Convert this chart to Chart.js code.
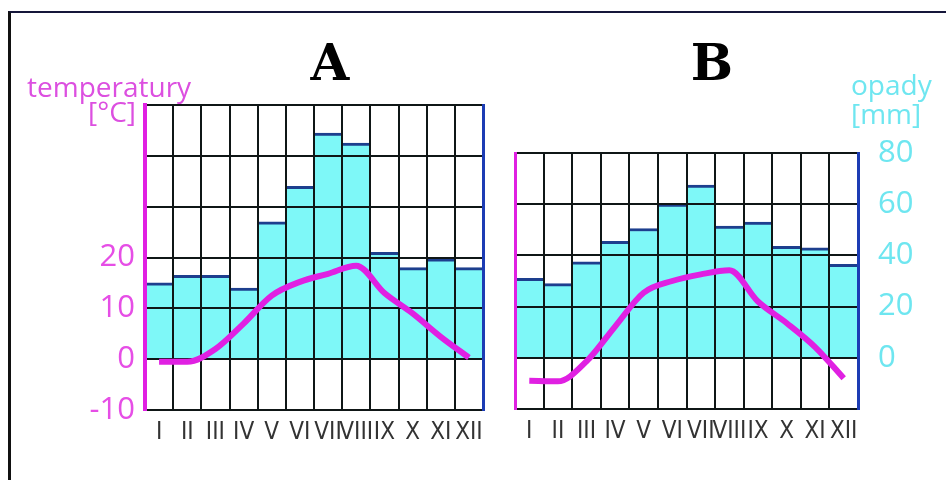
<!DOCTYPE html>
<html>
<head>
<meta charset="utf-8">
<script src="https://cdn.jsdelivr.net/npm/chart.js@4.4.1/dist/chart.umd.min.js"></script>
<style>
  body { margin: 0; background: #fff; width: 946px; height: 480px; overflow: hidden; position: relative; font-family: "Open Sans", sans-serif; }
  .frame { position: absolute; left: 8px; top: 11px; width: 960px; height: 480px; border-top: 2px solid #15163a; border-left: 3px solid #111; }
  canvas { position: absolute; top: 0; }
  .title { position: absolute; top: 39px; font-family: "DejaVu Serif", serif; font-weight: bold; font-size: 50px; line-height: 48px; color: #000; transform: translateX(-50%); }
  .unit { position: absolute; font-size: 28px; line-height: 27px; white-space: nowrap; }
  .temp { color: #dc4fe0; }
  .rain { color: #6ee6f0; }
</style>
</head>
<body>
<div class="frame"></div>
<canvas id="chartA" width="500" height="470" style="left:0"></canvas>
<canvas id="chartB" width="456" height="470" style="left:490px"></canvas>
<div class="title" style="left:330px">A</div>
<div class="title" style="left:712px">B</div>
<div class="unit temp" style="left:27px; top:73px">temperatury</div>
<div class="unit temp" style="left:88px; top:98px">[°C]</div>
<div class="unit rain" style="left:851px; top:71px">opady</div>
<div class="unit rain" style="left:851px; top:100px">[mm]</div>

<script>
// months
const months = ["I", "II", "III", "IV", "V", "VI", "VII", "VIII", "IX", "X", "XI", "XII"];

// station A
const tempA = [-0.5, -0.5, 2, 7, 12.5, 15.2, 16.8, 18.4, 13, 9, 4.4, 0.3];
const rainA = [30, 33, 33, 28, 54, 68, 89, 85, 42, 36, 39.5, 36];

// station B
const tempB = [-4.5, -4.6, -0.7, 6.1, 12.7, 15, 16.3, 17.1, 11, 6.8, 2.1, -4];
const rainB = [31, 29, 37.5, 45.5, 50.5, 60, 67.5, 51.5, 53, 43.5, 43, 36.5];

// tick labels that are printed
const tempTicksA = [-10, 0, 10, 20];
const rainTicksB = [0, 20, 40, 60, 80];

const MAGENTA = "#e020e2";
const CYAN = "#7ef8f8";
const GRID = "#0f1616";

// grid and axis lines go back on top of the bars, under the temperature line
const gridOnTop = {
  id: "gridOnTop",
  afterDatasetDraw(chart, args) {
    if (args.meta.type !== "bar") return;
    chart.scales.x.drawGrid(chart.chartArea);
    chart.scales.y.drawGrid(chart.chartArea);
    chart.scales.x.drawBorder();
    chart.scales.y.drawBorder();
    chart.scales.y2.drawBorder();
  }
};

function makeChart(id, o) {
  const ctx = document.getElementById(id).getContext("2d");
  return new Chart(ctx, {
    type: "bar",
    data: {
      labels: months,
      datasets: [
        {
          type: "line",
          data: o.temp,
          yAxisID: "y",
          borderColor: MAGENTA,
          borderWidth: 6,
          pointRadius: 0,
          cubicInterpolationMode: "monotone",
          order: 0
        },
        {
          type: "bar",
          data: o.rain,
          yAxisID: "y2",
          backgroundColor: CYAN,
          borderColor: "#1d3f8e",
          borderWidth: { top: 3, left: 0, right: 0, bottom: 0 },
          borderSkipped: false,
          categoryPercentage: 1,
          barPercentage: 1,
          order: 1
        }
      ]
    },
    options: {
      responsive: false,
      devicePixelRatio: 1,
      animation: false,
      layout: { padding: { top: o.top, left: 0, right: 0, bottom: 0 } },
      plugins: { legend: { display: false }, tooltip: { enabled: false } },
      scales: {
        x: {
          afterFit: s => { s.height = o.bottom; },
          grid: { color: GRID, lineWidth: 2, drawTicks: false },
          border: { color: GRID, width: 2 },
          ticks: {
            color: "#333",
            padding: 8,
            maxRotation: 0,
            autoSkip: false,
            font: { family: "'Liberation Sans Narrow', 'DejaVu Sans Condensed', sans-serif", size: 24 }
          }
        },
        y: {
          position: "left",
          min: -10,
          max: o.tempMax,
          afterFit: s => { s.width = o.leftW; },
          grid: { color: GRID, lineWidth: 2, drawTicks: false },
          border: { color: MAGENTA, width: o.leftBorder },
          ticks: {
            display: o.showTemp,
            stepSize: 10,
            padding: 10,
            color: "#e64ee6",
            font: { family: "'Open Sans', sans-serif", size: 31 },
            callback: v => (tempTicksA.includes(v) ? v : "")
          }
        },
        y2: {
          position: "right",
          min: -20,
          max: o.tempMax * 2,
          afterFit: s => { s.width = o.rightW; },
          grid: { display: false, drawTicks: false },
          border: { color: "#1c3cb4", width: 3 },
          ticks: {
            display: o.showRain,
            stepSize: 20,
            padding: 20,
            color: "#6ee6f0",
            font: { family: "'Open Sans', sans-serif", size: 31 },
            callback: v => (rainTicksB.includes(v) ? v : "")
          }
        }
      }
    },
    plugins: [gridOnTop]
  });
}

makeChart("chartA", {
  temp: tempA, rain: rainA, tempMax: 50,
  top: 105, bottom: 60, leftW: 145, rightW: 17,
  leftBorder: 4, showTemp: true, showRain: false
});

makeChart("chartB", {
  temp: tempB, rain: rainB, tempMax: 40,
  top: 153, bottom: 61, leftW: 25, rightW: 88,
  leftBorder: 3, showTemp: false, showRain: true
});
</script>
</body>
</html>
